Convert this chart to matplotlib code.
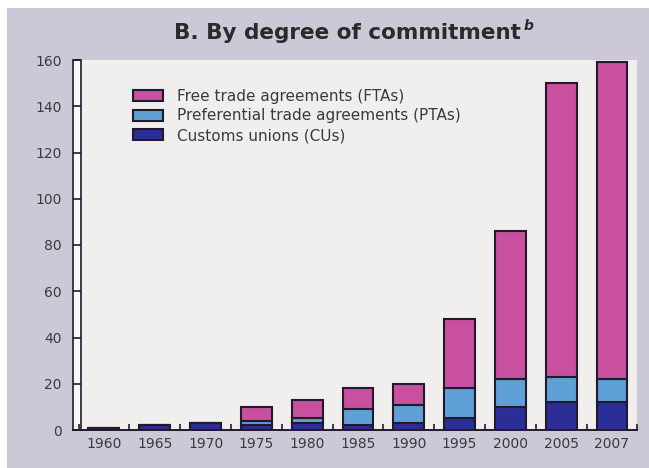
import matplotlib
matplotlib.use("Agg")
import matplotlib.pyplot as plt
from matplotlib.patches import Rectangle
import numpy as np

years = ['1960', '1965', '1970', '1975', '1980', '1985', '1990', '1995', '2000', '2005', '2007']
cu = [1, 2, 3, 2, 3, 2, 3, 5, 10, 12, 12]
pta = [0, 0, 0, 2, 2, 7, 8, 13, 12, 11, 10]
fta = [0, 0, 0, 6, 8, 9, 9, 30, 64, 127, 137]
yticks = [0, 20, 40, 60, 80, 100, 120, 140, 160]
labels = ['Free trade agreements (FTAs)', 'Preferential trade agreements (PTAs)', 'Customs unions (CUs)']
title = 'B. By degree of commitment'

c_fta = '#c9509f'
c_pta = '#5fa0d6'
c_cu = '#2b2e96'
edge = '#221a2c'
txt = '#3a3a3a'

plt.rcParams['font.family'] = ['DejaVu Sans']

fig = plt.figure(figsize=(6.49, 4.68), dpi=100, facecolor='white')
fig.add_artist(Rectangle((7/649, 0), 1 - 7/649, 1 - 8/468, transform=fig.transFigure,
                         facecolor='#cdc8d7', edgecolor='none', zorder=0))

ax = fig.add_axes([72.7/649, 38/468, (637.4-72.7)/649, 370/468])
ax.set_facecolor('#f1efed')

x = np.arange(len(years))
w = 0.61
cu_a = np.array(cu)
pta_a = np.array(pta)
fta_a = np.array(fta)
b1 = ax.bar(x, cu_a, w, color=c_cu, edgecolor=edge, linewidth=1.5, label=labels[2], zorder=2)
b2 = ax.bar(x, pta_a, w, bottom=cu_a, color=c_pta, edgecolor=edge, linewidth=1.5, label=labels[1], zorder=2)
b3 = ax.bar(x, fta_a, w, bottom=cu_a + pta_a, color=c_fta, edgecolor=edge, linewidth=1.5, label=labels[0], zorder=2)

ax.set_xlim(-0.616, len(years) - 0.5)
ax.set_ylim(0, 160)

for s in ['top', 'right', 'left']:
    ax.spines[s].set_visible(False)
ax.spines['bottom'].set_color(edge)
ax.spines['bottom'].set_linewidth(1.4)

ax.add_patch(Rectangle((0, 0), 8/565, 1, transform=ax.transAxes, facecolor='#fbfbfb',
                       edgecolor=edge, linewidth=1.2, zorder=1, clip_on=False))

ax.set_yticks(yticks)
ax.tick_params(axis='y', direction='in', length=5.8, width=1.2, color=edge,
               labelsize=10, labelcolor=txt, pad=8)
ax.set_xticks(x)
ax.set_xticklabels(years)
ax.tick_params(axis='x', which='major', length=0, labelsize=10, labelcolor=txt, pad=5)
ax.set_xticks(np.arange(-0.5, len(years), 1.0), minor=True)
ax.tick_params(axis='x', which='minor', direction='in', length=4.5, width=1.2, color=edge)

h = [b3, b2, b1]
leg = ax.legend(h, labels, loc='upper left', bbox_to_anchor=(0.107, 0.922), frameon=False,
                fontsize=11, handlelength=1.95, handleheight=0.75, handletextpad=0.95,
                labelspacing=0.3, borderpad=0, borderaxespad=0)
for t in leg.get_texts():
    t.set_color(txt)

tt = fig.text(0.535, 0.93, title, ha='center', va='center',
              fontsize=15.5, fontweight='bold', color='#2a2a2a')
fig.canvas.draw()
bb = tt.get_window_extent()
fig.text((bb.x1 + 3) / fig.bbox.width, 0.945, 'b', ha='left', va='center',
         fontsize=10, fontweight='bold', fontstyle='italic', color='#2a2a2a')

fig.savefig('out.png', dpi=100, facecolor=fig.get_facecolor())
